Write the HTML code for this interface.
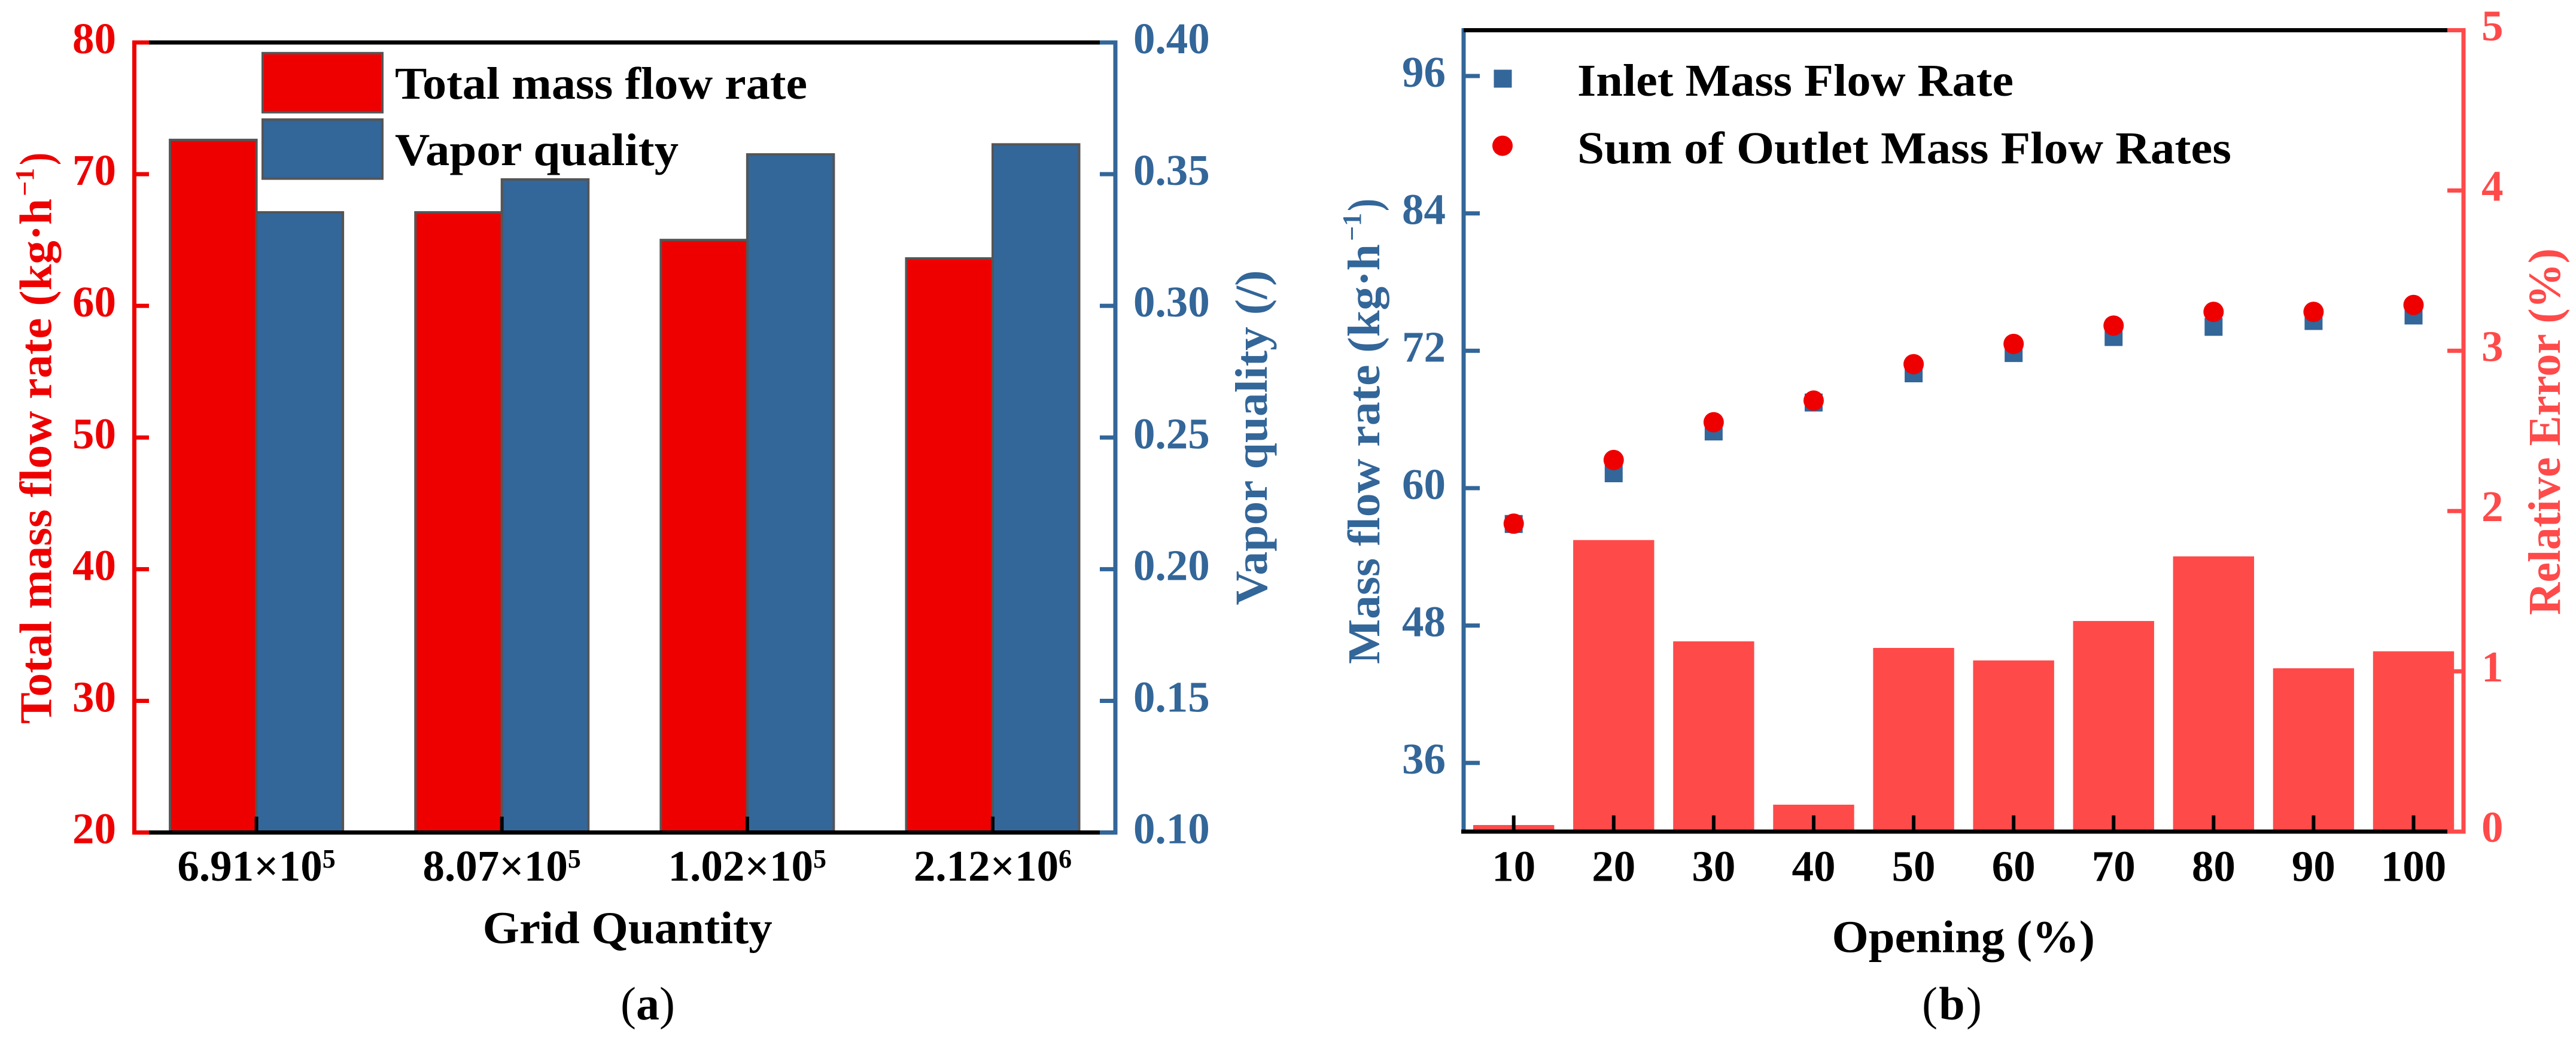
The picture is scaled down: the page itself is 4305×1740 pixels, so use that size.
<!DOCTYPE html>
<html lang="en">
<head>
<meta charset="utf-8">
<title>Grid independence and mass flow validation</title>
<style>
html,body{margin:0;padding:0;background:#fff;width:4305px;height:1740px;overflow:hidden}
svg{display:block}
text{font-family:"Liberation Serif",serif;font-weight:700}
.title{font-size:76px}
.sup{font-size:44px}
.tick{font-size:73px}
.red{fill:#ee0000}.blue{fill:#336699}.lred{fill:#ff4a4a}.blk{fill:#000}
</style>
</head>
<body>
<svg id="fig" xmlns="http://www.w3.org/2000/svg" width="4305" height="1740" viewBox="0 0 4305 1740">
  <rect width="4305" height="1740" fill="#fff"/>
  <g id="panelA"></g>
  <g id="panelB"></g>

  <!-- Panel A static text -->
  <g class="red">
    <text class="title" transform="translate(85.6,1210) rotate(-90)" textLength="878" lengthAdjust="spacingAndGlyphs">Total mass flow rate (kg·h</text>
    <text class="sup" transform="translate(56,328) rotate(-90)">−1</text>
    <text class="title" transform="translate(85.6,276) rotate(-90)" textLength="21" lengthAdjust="spacingAndGlyphs">)</text>
  </g>
  <text class="title blue" transform="translate(2117,1011.5) rotate(-90)" textLength="560" lengthAdjust="spacingAndGlyphs">Vapor quality (/)</text>
  <text class="title blk" x="806.7" y="1576.4" textLength="484" lengthAdjust="spacingAndGlyphs">Grid Quantity</text>
  <text class="blk" x="1037" y="1704" style="font-size:78px;font-weight:400" textLength="91">(<tspan style="font-weight:700">a</tspan>)</text>

  <g>
    <rect x="439" y="88.8" width="200" height="98.8" fill="#ee0000" stroke="#555" stroke-width="4"/>
    <rect x="439" y="199.8" width="200" height="98.8" fill="#336699" stroke="#555" stroke-width="4"/>
    <text class="title blk" x="660" y="165" textLength="689" lengthAdjust="spacingAndGlyphs">Total mass flow rate</text>
    <text class="title blk" x="660" y="276" textLength="474" lengthAdjust="spacingAndGlyphs">Vapor quality</text>
  </g>

  <!-- Panel B static text -->
  <g class="blue">
    <text class="title" transform="translate(2305,1110) rotate(-90)" textLength="702" lengthAdjust="spacingAndGlyphs">Mass flow rate (kg·h</text>
    <text class="sup" transform="translate(2274,403) rotate(-90)">−1</text>
    <text class="title" transform="translate(2305,353) rotate(-90)" textLength="21" lengthAdjust="spacingAndGlyphs">)</text>
  </g>
  <text class="title lred" transform="translate(4278,1028) rotate(-90)" textLength="613" lengthAdjust="spacingAndGlyphs">Relative Error (%)</text>
  <text class="title blk" x="3061.5" y="1591.4" textLength="439.5" lengthAdjust="spacingAndGlyphs">Opening (%)</text>
  <text class="blk" x="3212" y="1704" style="font-size:78px;font-weight:400" textLength="100">(<tspan style="font-weight:700">b</tspan>)</text>

  <g>
    <rect x="2496.5" y="116.5" width="30" height="30" fill="#336699"/>
    <circle cx="2511" cy="243.6" r="17" fill="#ee0000"/>
    <text class="title blk" x="2636" y="160" textLength="729" lengthAdjust="spacingAndGlyphs">Inlet Mass Flow Rate</text>
    <text class="title blk" x="2636" y="273" textLength="1093" lengthAdjust="spacingAndGlyphs">Sum of Outlet Mass Flow Rates</text>
  </g>
</svg>

<script>
// ---------- Panel A data ----------
const gridLabels = ['6.91×10', '8.07×10', '1.02×10', '2.12×10'];
const gridExponents = ['5', '5', '5', '6'];
const totalMassFlow = [72.6, 67.1, 65.0, 63.6];
const vaporQuality = [0.3355, 0.348, 0.3575, 0.3613];
const massFlowTicks = [20, 30, 40, 50, 60, 70, 80];
const qualityTicks = [0.10, 0.15, 0.20, 0.25, 0.30, 0.35, 0.40];

// ---------- Panel B data ----------
const openings = [10, 20, 30, 40, 50, 60, 70, 80, 90, 100];
const inletFlow = [56.87, 61.3, 64.95, 67.48, 70.03, 71.8, 73.2, 74.09, 74.6, 75.08];
const outletSum = [56.9, 62.46, 65.76, 67.65, 70.83, 72.6, 74.2, 75.4, 75.4, 76.0];
const relativeError = [0.041, 1.819, 1.187, 0.168, 1.146, 1.068, 1.314, 1.717, 1.019, 1.125];
const flowTicks = [36, 48, 60, 72, 84, 96];
const errorTicks = [0, 1, 2, 3, 4, 5];

const NS = 'http://www.w3.org/2000/svg';
const RED = '#ee0000', BLUE = '#336699', LRED = '#ff4a4a', EDGE = '#555555';

function linear(d0, d1, r0, r1) {
  return function (v) { return r0 + (v - d0) / (d1 - d0) * (r1 - r0); };
}
function rect(parent, x, y, w, h, fill) {
  const n = document.createElementNS(NS, 'rect');
  n.setAttribute('x', x);
  n.setAttribute('y', y);
  n.setAttribute('width', w);
  n.setAttribute('height', h);
  n.setAttribute('fill', fill);
  parent.appendChild(n);
  return n;
}
function label(parent, x, y, str, anchor, fill) {
  const n = document.createElementNS(NS, 'text');
  n.setAttribute('x', x);
  n.setAttribute('y', y);
  n.setAttribute('text-anchor', anchor);
  n.setAttribute('fill', fill);
  n.setAttribute('class', 'tick');
  n.textContent = str;
  parent.appendChild(n);
  return n;
}

// ---------- Panel A ----------
const gA = document.getElementById('panelA');
const yMass = linear(20, 80, 1391.6, 71);
const yQual = linear(0.10, 0.40, 1391.6, 71);
const xGrid = linear(0, 3, 428.6, 1659);
const barW = 144.5;

gridLabels.forEach(function (_, i) {
  const cx = xGrid(i);
  const r = rect(gA, cx - barW, yMass(totalMassFlow[i]), barW, yMass(20) - yMass(totalMassFlow[i]), RED);
  r.setAttribute('stroke', EDGE);
  r.setAttribute('stroke-width', '4');
  
  
  const b = rect(gA, cx, yQual(vaporQuality[i]), barW, yQual(0.10) - yQual(vaporQuality[i]), BLUE);
  b.setAttribute('stroke', EDGE);
  b.setAttribute('stroke-width', '4');
  
  
});

// frame panel A
const aTop = rect(gA, 221, 67.5, 1646, 7, '#000');


const aBottom = rect(gA, 221, 1388, 1646, 7, '#000');


const aLeft = rect(gA, 221, 67.5, 7, 1327.5, RED);


const aRight = rect(gA, 1860.5, 67.5, 7, 1327.5, BLUE);



massFlowTicks.forEach(function (v) {
  const y = yMass(v);
  const t = rect(gA, 224, y - 3.5, 25, 7, RED);
  
  
  const l = label(gA, 194, y + 18, String(v), 'end', RED);
  
  
});
qualityTicks.forEach(function (v) {
  const y = yQual(v);
  const t = rect(gA, 1838, y - 3.5, 26, 7, BLUE);
  
  
  const l = label(gA, 1894, y + 18, v.toFixed(2), 'start', BLUE);
  
  
});
gridLabels.forEach(function (str, i) {
  const cx = xGrid(i);
  const t = rect(gA, cx - 3, 1365, 6, 26, '#000');
  
  
  const l = label(gA, cx, 1472, str, 'middle', '#000');
  
  
  const s = document.createElementNS(NS, 'tspan');
  s.setAttribute('dy', '-22');
  s.setAttribute('style', 'font-size:44px');
  s.textContent = gridExponents[i];
  l.appendChild(s);
});

// ---------- Panel B ----------
const gB = document.getElementById('panelB');
const xOpen = linear(10, 100, 2529.7, 4033.5);
const yFlow = linear(30, 100, 1390, 50.5);
const yErr = linear(0, 5, 1390, 50.5);
const errBarW = 135.4;

openings.forEach(function (o, i) {
  const b = rect(gB, xOpen(o) - errBarW / 2, yErr(relativeError[i]), errBarW, yErr(0) - yErr(relativeError[i]), LRED);
  
  
});

const bRight = rect(gB, 4113.5, 47, 7, 1346.5, LRED);


const bRightTop = rect(gB, 4090, 47, 30, 7, LRED);


const bRightBottom = rect(gB, 4090, 1386.5, 30, 7, LRED);


const bLeft = rect(gB, 2442.5, 47, 7, 1346.5, BLUE);


const bTop = rect(gB, 2446, 47, 1644, 7, '#000');


const bBottom = rect(gB, 2442, 1386.5, 1648, 7, '#000');



flowTicks.forEach(function (v) {
  const y = yFlow(v);
  const t = rect(gB, 2446, y - 3.5, 27, 7, BLUE);
  
  
  const l = label(gB, 2416, y + 18, String(v), 'end', BLUE);
  
  
});
errorTicks.forEach(function (v) {
  const y = yErr(v);
  const t = rect(gB, 4090, y - 3.5, 27, 7, LRED);
  
  
  const l = label(gB, 4147, y + 17, String(v), 'start', LRED);
  
  
});
openings.forEach(function (o, i) {
  const cx = xOpen(o);
  const t = rect(gB, cx - 3, 1363, 6, 27, '#000');
  
  
  const l = label(gB, cx, 1472.6, String(o), 'middle', '#000');
  
  
  const sq = rect(gB, cx - 15, yFlow(inletFlow[i]) - 15, 30, 30, BLUE);
  
  
});
openings.forEach(function (o, i) {
  const c = document.createElementNS(NS, 'circle');
  c.setAttribute('cx', xOpen(o));
  c.setAttribute('cy', yFlow(outletSum[i]));
  c.setAttribute('r', 17);
  c.setAttribute('fill', RED);
  
  
  gB.appendChild(c);
});
</script>
</body>
</html>
